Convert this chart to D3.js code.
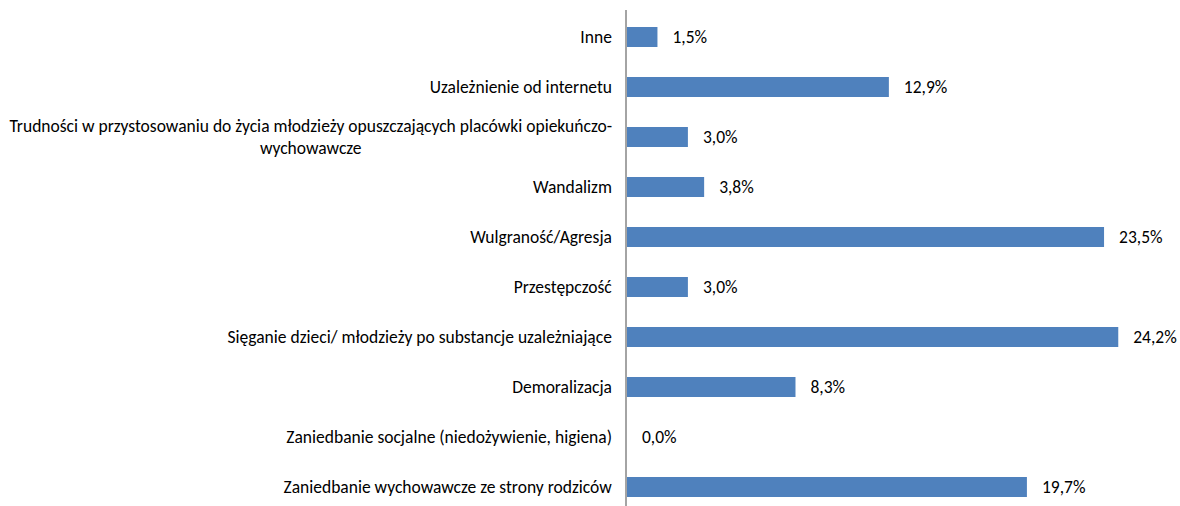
<!DOCTYPE html>
<html>
<head>
<meta charset="utf-8">
<script src="https://cdn.jsdelivr.net/npm/d3@7"></script>
<style>
body { margin: 0; background: #fff; }
text { font-family: Carlito, "Open Sans", sans-serif; font-size: 17.5px; fill: #000; }
</style>
</head>
<body>
<script>
// Kategorie (od góry)
var categories = [
  "Inne",
  "Uzależnienie od internetu",
  "Trudności w przystosowaniu do życia młodzieży opuszczających placówki opiekuńczo-|wychowawcze",
  "Wandalizm",
  "Wulgraność/Agresja",
  "Przestępczość",
  "Sięganie dzieci/ młodzieży po substancje uzależniające",
  "Demoralizacja",
  "Zaniedbanie socjalne (niedożywienie, higiena)",
  "Zaniedbanie wychowawcze ze strony rodziców"
];
// Wartości w %
var values = [1.5, 12.9, 3.0, 3.8, 23.5, 3.0, 24.2, 8.3, 0.0, 19.7];

var width = 1180, height = 506;
var margin = {top: 12, left: 627, right: 0};

var svg = d3.select("body").append("svg")
  .attr("width", width)
  .attr("height", height);

// Skala X
var xScale = d3.scaleLinear()
  .domain([0, 25])
  .range([margin.left, margin.left + 25 * 20.3]);

// Skala Y
var yScale = d3.scaleBand()
  .domain(d3.range(categories.length))
  .range([margin.top, margin.top + 50 * categories.length])
  .paddingInner(0.6)
  .paddingOuter(0.3);

// Słupki
svg.selectAll(".bar")
  .data(values)
  .enter().append("rect")
  .attr("class", "bar")
  .attr("x", xScale(0))
  .attr("y", function (d, i) { return yScale(i); })
  .attr("width", function (d) { return xScale(d) - xScale(0); })
  .attr("height", yScale.bandwidth())
  .attr("fill", "#4F81BD");

// Etykiety wartości
svg.selectAll(".val")
  .data(values)
  .enter().append("text")
  .attr("class", "val")
  .attr("x", function (d) { return xScale(d) + 15; })
  .attr("y", function (d, i) { return yScale(i) + yScale.bandwidth() / 2; })
  .attr("dy", "0.35em")
  .text(function (d) { return d.toFixed(1).replace(".", ",") + "%"; });

// Oś Y (kategorie)
var yAxis = d3.axisLeft(yScale).tickSize(0).tickPadding(14).tickFormat("");
var axisG = svg.append("g")
  .attr("transform", "translate(" + (margin.left - 1) + ",0)")
  .call(yAxis);
axisG.select(".domain").remove();
axisG.append("line")
  .attr("x1", 0).attr("x2", 0)
  .attr("y1", 10).attr("y2", height)
  .attr("stroke", "#868686")
  .attr("stroke-width", 1.5);

// Teksty kategorii (z łamaniem linii)
axisG.selectAll(".tick").each(function (d) {
  var lines = categories[d].split("|");
  var g = d3.select(this);
  var t = g.append("text")
    .attr("text-anchor", "middle")
    .attr("y", yScale.bandwidth() / 2);
  lines.forEach(function (l, k) {
    t.append("tspan")
      .attr("x", 0)
      .attr("dy", k === 0 ? (0.35 - (lines.length - 1) * 0.625) + "em" : "1.25em")
      .text(l);
  });
  // Wyrównanie bloku do prawej
  var w = t.node().getBBox().width;
  t.attr("transform", "translate(" + (-14 - w / 2) + "," + (-yScale.bandwidth() / 2) + ")");
});
</script>
</body>
</html>
